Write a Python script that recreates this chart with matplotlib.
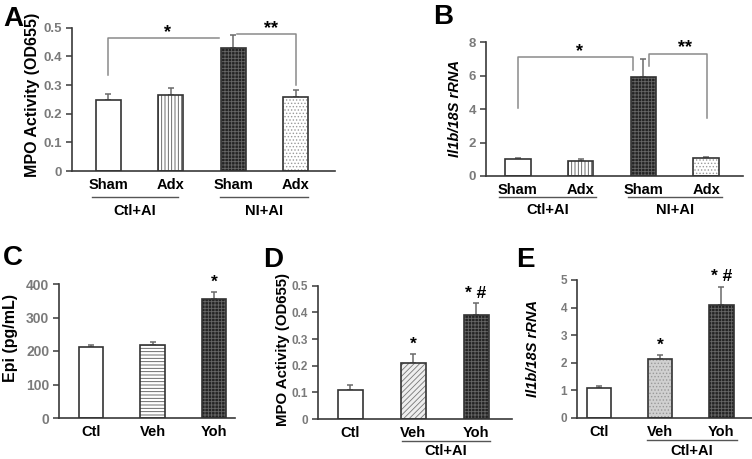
import matplotlib
matplotlib.use("Agg")
import matplotlib.pyplot as plt
import matplotlib.transforms as mtransforms

plt.rcParams['font.family'] = ['Liberation Sans', 'DejaVu Sans']
plt.rcParams['font.weight'] = 'bold'
plt.rcParams['hatch.linewidth'] = 0.6

# ---- data ----
a_labels = ['Sham', 'Adx', 'Sham', 'Adx']
a_groups = ['Ctl+AI', 'NI+AI']
a_vals = [0.247, 0.265, 0.430, 0.258]
a_err = [0.020, 0.025, 0.044, 0.025]

b_labels = ['Sham', 'Adx', 'Sham', 'Adx']
b_groups = ['Ctl+AI', 'NI+AI']
b_vals = [1.00, 0.87, 5.90, 1.05]
b_err = [0.10, 0.15, 1.10, 0.07]

c_labels = ['Ctl', 'Veh', 'Yoh']
c_vals = [213, 219, 355]
c_err = [6, 8, 20]
c_sig = ['', '', '*']

d_labels = ['Ctl', 'Veh', 'Yoh']
d_vals = [0.110, 0.210, 0.390]
d_err = [0.017, 0.033, 0.046]
d_sig = ['', '*', '* #']

e_labels = ['Ctl', 'Veh', 'Yoh']
e_vals = [1.09, 2.13, 4.09]
e_err = [0.07, 0.13, 0.67]
e_sig = ['', '*', '* #']

W, H = 752, 459
EDGE = '#333333'
TICKC = '#7a7a7a'
LINEC = '#8a8a8a'

# bar styles: (face, hatch, hatch colour)
WHITE = ('white', None, EDGE)
VLINES = ('white', '|||||', '#555555')
DARK = ('#232323', '+++++', '#666666')
LIGHTDOT = ('white', '.....', '#9a9a9a')
HLINES = ('white', '-----', '#555555')
DIAG = ('#eeeeee', '//////', '#777777')
GRAYDOT = ('#d0d0d0', '.....', '#999999')

fig = plt.figure(figsize=(W / 100, H / 100), dpi=100)


def make_ax(l, t, r, b):
    return fig.add_axes([l / W, 1 - b / H, (r - l) / W, (b - t) / H])


def style(ax, ylim, yticks, fmt, size=10):
    ax.set_ylim(*ylim)
    ax.set_yticks(yticks)
    ax.set_yticklabels([fmt.format(v) for v in yticks], color=TICKC,
                       fontsize=size, fontweight='bold')
    for s in ['top', 'right']:
        ax.spines[s].set_visible(False)
    for s in ['left', 'bottom']:
        ax.spines[s].set_color('#3a3a3a')
        ax.spines[s].set_linewidth(1.2)
    ax.tick_params(axis='y', length=4, width=1.1, color='#3a3a3a', pad=3)
    ax.tick_params(axis='x', length=0, pad=5)


def bars(ax, vals, err, styles):
    xs = list(range(len(vals)))
    for x, v, (fc, h, hc) in zip(xs, vals, styles):
        ax.bar(x, v, width=0.4, color=fc, edgecolor=hc, hatch=h, linewidth=0, zorder=2)
        ax.bar(x, v, width=0.4, fill=False, edgecolor=EDGE, linewidth=1.2, zorder=3)
    ax.errorbar(xs, vals, yerr=[[0] * len(vals), err], fmt='none', ecolor='#6a6a6a',
                elinewidth=1.1, capsize=2.5, capthick=1.1, zorder=1)
    ax.set_xticks(xs)


def xlabels(ax, labels, size=10.5):
    ax.set_xticklabels(labels, fontsize=size, fontweight='bold', color='black')


def group(ax, x0, x1, text, yline, ytext, size=10.5):
    tr = mtransforms.blended_transform_factory(ax.transData, fig.transFigure)
    ax.plot([x0, x1], [1 - yline / H] * 2, color='#555555', lw=1, transform=tr, clip_on=False)
    ax.text((x0 + x1) / 2, 1 - ytext / H, text, transform=tr, ha='center', va='center',
            fontsize=size, fontweight='bold')


def ylab(x, y, text, size, italic=False):
    fig.text(x / W, 1 - y / H, text, rotation=90, ha='center', va='center',
             fontsize=size, fontweight='bold', style='italic' if italic else 'normal')


def letter(x, y, text):
    fig.text(x / W, 1 - y / H, text, ha='left', va='top', fontsize=20, fontweight='bold')


def bracket(ax, pts, star, sx, sy, size=13):
    ax.plot([p[0] for p in pts], [p[1] for p in pts], color=LINEC, lw=1.1, clip_on=False)
    ax.text(sx, sy, star, ha='center', va='center', fontsize=size, fontweight='bold')


def sig(ax, vals, err, marks, off, size=12.5):
    for x, (v, e, m) in enumerate(zip(vals, err, marks)):
        if m:
            ax.text(x, v + e + off, m, ha='center', va='bottom', fontsize=size,
                    fontweight='bold', clip_on=False)


# ---- A ----
ax = make_ax(72, 27.7, 335, 171)
bars(ax, a_vals, a_err, [WHITE, VLINES, DARK, LIGHTDOT])
style(ax, (0, 0.5), [0, 0.1, 0.2, 0.3, 0.4, 0.5], '{:g}', 9.5)
ax.set_xlim(-0.58, 3.63)
xlabels(ax, a_labels)
group(ax, -0.26, 1.12, a_groups[0], 197, 211)
group(ax, 1.79, 3.19, a_groups[1], 197, 211)
bracket(ax, [(0, 0.335), (0, 0.465), (1.78, 0.465)], '*', 0.95, 0.483)
bracket(ax, [(2.06, 0.479), (3.0, 0.479), (3.0, 0.30)], '**', 2.6, 0.497)
ylab(33, 95, 'MPO Activity (OD655)', 11.5)
letter(3, 6, 'A')

# ---- B ----
ax = make_ax(486, 42, 743, 176)
bars(ax, b_vals, b_err, [WHITE, VLINES, DARK, LIGHTDOT])
style(ax, (0, 8), [0, 2, 4, 6, 8], '{:g}', 9.5)
ax.set_xlim(-0.51, 3.59)
xlabels(ax, b_labels)
group(ax, -0.30, 1.24, b_groups[0], 197, 210)
group(ax, 1.75, 3.26, b_groups[1], 197, 210)
bracket(ax, [(0, 4.06), (0, 7.09), (1.83, 7.09), (1.83, 6.33)], '*', 0.98, 7.45)
bracket(ax, [(2.09, 6.57), (2.09, 7.30), (3.01, 7.30), (3.01, 3.46)], '**', 2.67, 7.65)
ylab(455, 108, 'Il1b/18S rRNA', 10.5, italic=True)
letter(433, 4, 'B')

# ---- C ----
ax = make_ax(59, 284, 235, 418)
bars(ax, c_vals, c_err, [WHITE, HLINES, DARK])
style(ax, (0, 400), [0, 100, 200, 300, 400], '{:g}', 10)
ax.set_xlim(-0.52, 2.34)
xlabels(ax, c_labels)
sig(ax, c_vals, c_err, c_sig, 8)
ylab(11, 338, 'Epi (pg/mL)', 11.5)
letter(3, 245, 'C')

# ---- D ----
ax = make_ax(318, 285.7, 512, 419)
bars(ax, d_vals, d_err, [WHITE, DIAG, DARK])
style(ax, (0, 0.5), [0, 0.1, 0.2, 0.3, 0.4, 0.5], '{:g}', 8.5)
ax.set_xlim(-0.51, 2.57)
xlabels(ax, d_labels)
group(ax, 0.82, 2.22, 'Ctl+AI', 441, 451)
sig(ax, d_vals, d_err, d_sig, 0.008)
ylab(283, 349, 'MPO Activity (OD655)', 10.8)
letter(263, 247, 'D')

# ---- E ----
ax = make_ax(577, 280, 752, 417.7)
bars(ax, e_vals, e_err, [WHITE, GRAYDOT, DARK])
style(ax, (0, 5), [0, 1, 2, 3, 4, 5], '{:g}', 8.5)
ax.set_xlim(-0.36, 2.5)
xlabels(ax, e_labels)
group(ax, 0.78, 2.25, 'Ctl+AI', 440, 451)
sig(ax, e_vals, e_err, e_sig, 0.08)
ylab(533, 348, 'Il1b/18S rRNA', 10.5, italic=True)
letter(516, 247, 'E')

fig.savefig('out.png', dpi=100)
